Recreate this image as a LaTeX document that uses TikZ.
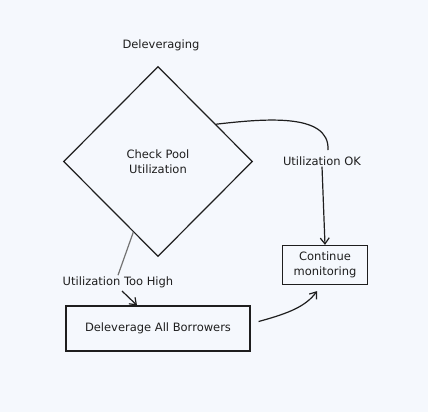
\documentclass[tikz,border=0pt]{standalone}
\usepackage{fontspec}
\setmainfont{DejaVu Sans}
\usetikzlibrary{shapes.geometric,arrows.meta,calc}
\definecolor{bg}{HTML}{F5F8FD}
\definecolor{ink}{HTML}{1E1E1E}
\begin{document}
\begin{tikzpicture}[x=1pt,y=-1pt,
  every node/.style={text=ink,font=\fontsize{11.5}{15}\selectfont},
  line/.style={draw=ink,line width=1.2pt},
  arr/.style={line,-{Straight Barb[length=6pt,width=9pt,line width=1.2pt]}},
  lbl/.style={fill=bg,inner sep=1pt,align=center},
  boxnode/.style={draw=ink,line width=1.2pt,align=center,inner sep=0pt}]
\fill[bg] (0,0) rectangle (428,412);
\useasboundingbox (0,0) rectangle (428,412);
\node (title) at (161,45) {Deleveraging};
\node[diamond,draw=ink,line width=1.2pt,minimum width=189pt,minimum height=190pt,inner sep=0pt,align=center] (dia) at (158,161.5) {Check Pool\\Utilization};
\node[boxnode,minimum width=85pt,minimum height=39pt] (cont) at (325,265) {Continue\\monitoring};
\node[boxnode,minimum width=184pt,minimum height=45pt] (del) at (158,328.5) {Deleverage All Borrowers};
\node[lbl] (ok) at (322,161) {Utilization OK};
\node[lbl] (high) at (118,282) {Utilization Too High};
% diamond -> continue
\coordinate (d1) at ($(dia.north)!0.61!(dia.east)$);
\draw[line] (d1) .. controls (262,119) and (330,112) .. (328,150);
\draw[arr] (ok.south) -- (cont.north);
% diamond -> deleverage
\coordinate (d2) at ($(dia.south)!0.26!(dia.west)$);
\draw[draw=black!55,line width=1.2pt] (d2) -- (high.north);
\coordinate (h1) at (122,291);
\draw[arr] (h1) -- (del.north -| 137,0);
% deleverage -> continue
\coordinate (e1) at ($(del.east)+(8,-7)$);
\draw[arr] (e1) .. controls (290,313) and (306,306) .. ($(cont.south)+(-8,6)$);
\end{tikzpicture}
\end{document}
